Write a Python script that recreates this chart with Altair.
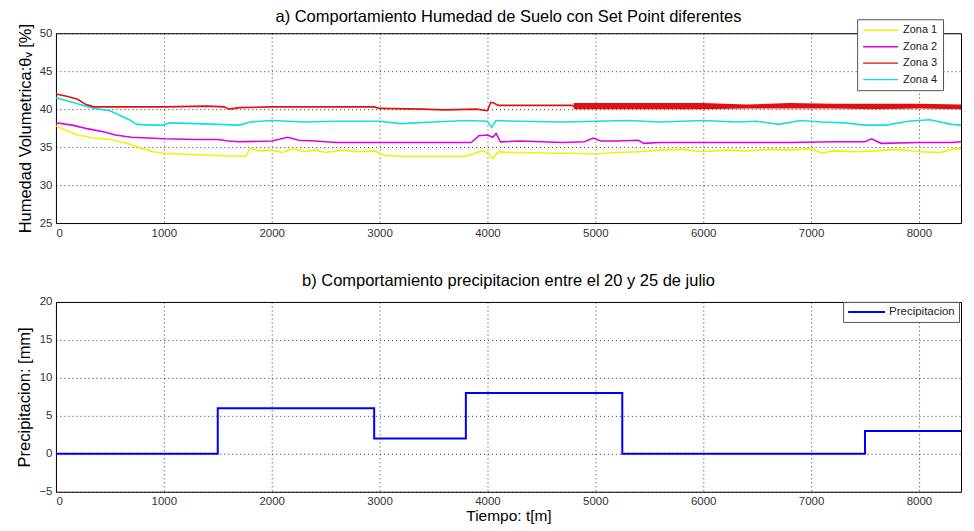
import altair as alt
import pandas as pd

# ---- Panel a) soil moisture (read from picture) ----
z1_t = [0, 100, 200, 350, 500, 600, 700, 800, 900, 1000, 1150, 1300, 1500, 1700, 1760, 1800, 1900, 2000, 2100, 2200, 2300, 2400, 2500, 2650, 2800, 2950, 3050, 3200, 3500, 3800, 3950, 4000, 4050, 4100, 4200, 4400, 4600, 4800, 5000, 5200, 5400, 5600, 5800, 6000, 6200, 6400, 6600, 6800, 7000, 7100, 7200, 7400, 7600, 7800, 8000, 8200, 8300, 8390]
z1_v = [37.8, 37.2, 36.6, 36.2, 36.0, 35.7, 35.3, 34.8, 34.4, 34.2, 34.1, 34.0, 33.9, 33.8, 33.8, 34.8, 34.5, 34.6, 34.3, 34.8, 34.4, 34.6, 34.3, 34.6, 34.4, 34.5, 33.9, 33.8, 33.8, 33.8, 34.5, 34.3, 33.5, 34.4, 34.3, 34.3, 34.2, 34.2, 34.1, 34.3, 34.4, 34.6, 34.7, 34.4, 34.6, 34.5, 34.7, 34.6, 34.8, 34.2, 34.5, 34.4, 34.5, 34.7, 34.4, 34.3, 34.7, 34.8]

z2_t = [0, 150, 300, 450, 550, 700, 850, 1000, 1300, 1500, 1600, 1700, 2000, 2150, 2250, 2400, 2600, 3000, 3400, 3850, 3920, 4000, 4050, 4080, 4120, 4300, 4500, 4700, 4900, 4980, 5050, 5200, 5400, 5450, 5600, 6000, 6400, 6800, 7200, 7500, 7560, 7650, 8000, 8300, 8390]
z2_v = [38.2, 37.9, 37.4, 37.0, 36.6, 36.3, 36.2, 36.1, 36.0, 36.0, 35.8, 35.7, 35.8, 36.3, 35.9, 35.8, 35.6, 35.6, 35.6, 35.6, 36.5, 36.6, 36.3, 36.8, 35.7, 35.8, 35.7, 35.6, 35.7, 36.2, 35.8, 35.8, 35.9, 35.5, 35.6, 35.6, 35.6, 35.6, 35.7, 35.7, 36.1, 35.5, 35.6, 35.6, 35.7]

z3_t = [0, 100, 200, 280, 350, 600, 1000, 1400, 1560, 1600, 1700, 2000, 2500, 2950, 3000, 3400, 3600, 3900, 4000, 4030, 4060, 4100, 4300, 4600, 4780, 4800]
z3_v = [42.0, 41.7, 41.3, 40.6, 40.3, 40.3, 40.3, 40.4, 40.3, 40.0, 40.2, 40.3, 40.3, 40.3, 40.1, 40.0, 39.9, 40.0, 39.8, 40.9, 40.8, 40.5, 40.5, 40.5, 40.5, 40.4]
z3_band_t = [4800, 5200, 5600, 6000, 6400, 6800, 7200, 7600, 8000, 8390]
z3_band_lo = [40.0, 40.0, 40.0, 40.0, 40.1, 40.1, 40.1, 40.0, 40.1, 40.0]
z3_band_hi = [40.8, 40.8, 40.8, 40.8, 40.6, 40.8, 40.7, 40.7, 40.7, 40.6]

z4_t = [0, 100, 200, 300, 400, 500, 560, 620, 680, 750, 900, 1000, 1050, 1300, 1500, 1700, 1800, 2000, 2300, 2600, 3000, 3200, 3500, 3800, 4000, 4040, 4080, 4300, 4700, 5000, 5300, 5600, 6000, 6300, 6500, 6700, 6900, 7100, 7300, 7500, 7700, 7900, 8100, 8300, 8390]
z4_v = [41.5, 41.1, 40.7, 40.3, 40.0, 39.8, 39.4, 39.0, 38.6, 38.0, 37.9, 37.9, 38.2, 38.1, 38.0, 37.9, 38.3, 38.5, 38.3, 38.4, 38.4, 38.1, 38.3, 38.5, 38.4, 37.6, 38.5, 38.4, 38.3, 38.4, 38.5, 38.3, 38.5, 38.3, 38.4, 38.0, 38.5, 38.3, 38.2, 37.9, 37.9, 38.4, 38.6, 38.0, 37.9]

# ---- Panel b) precipitation steps ----
p_t = [0, 1500, 2950, 3800, 5250, 7500, 8390]
p_v = [0, 6, 2, 8, 0, 3, 3]

zones = ["Zona 1", "Zona 2", "Zona 3", "Zona 4"]
zone_colors = ["#f2f200", "#e000e0", "#e01010", "#10e0e0"]

rows = []
for name, ts, vs in [("Zona 1", z1_t, z1_v), ("Zona 2", z2_t, z2_v), ("Zona 4", z4_t, z4_v), ("Zona 3", z3_t, z3_v)]:
    for t, v in zip(ts, vs):
        rows.append({"t": t, "v": v, "zona": name})
for t, lo, hi in zip(z3_band_t, z3_band_lo, z3_band_hi):
    rows.append({"t": t, "v": (lo + hi) / 2, "zona": "Zona 3"})
df_a = pd.DataFrame(rows)
df_band = pd.DataFrame({"t": z3_band_t, "lo": z3_band_lo, "hi": z3_band_hi})
df_b = pd.DataFrame({"t": p_t, "p": p_v, "serie": ["Precipitacion"] * len(p_t)})

FONT = "Liberation Sans"
XMAX = 8390
XTICKS = list(range(0, 8001, 1000))
W = 906

x_top = alt.X("t:Q", scale=alt.Scale(domain=[0, XMAX], nice=False, zero=False),
              axis=alt.Axis(values=XTICKS, format="d", title=None))
x_bot = alt.X("t:Q", scale=alt.Scale(domain=[0, XMAX], nice=False, zero=False),
              axis=alt.Axis(values=XTICKS, format="d", title="Tiempo: t[m]"))
y_top_axis = alt.Axis(values=[25, 30, 35, 40, 45, 50], format="d",
                      title="Humedad Volumetrica:θᵥ [%]")

band = alt.Chart(df_band).mark_area(color="#e01010", opacity=1).encode(
    x=x_top,
    y=alt.Y("lo:Q", scale=alt.Scale(domain=[25, 50], nice=False), axis=y_top_axis),
    y2="hi:Q",
)

lines_a = alt.Chart(df_a).mark_line(strokeWidth=1.6, clip=True).encode(
    x=x_top,
    y=alt.Y("v:Q", scale=alt.Scale(domain=[25, 50], nice=False), axis=y_top_axis),
    color=alt.Color("zona:N", scale=alt.Scale(domain=zones, range=zone_colors),
                    legend=alt.Legend(title=None, orient="none", legendX=W - 104, legendY=-14,
                                      symbolType="M-1,0H6", symbolSize=100, symbolStrokeWidth=1.3,
                                      labelOffset=29,
                                      strokeColor="#555", fillColor="white", padding=5,
                                      labelFontSize=11, labelFont=FONT, rowPadding=5.5,
                                      labelColor="#222")),
    order=alt.Order("t:Q"),
    detail="zona:N",
)

top = alt.layer(band, lines_a).properties(
    width=W, height=190,
    title=alt.TitleParams("a) Comportamiento Humedad de Suelo con Set Point diferentes",
                          fontSize=16.5, font=FONT, fontWeight="normal", offset=-7, anchor="middle"),
)

bottom = alt.Chart(df_b).mark_line(strokeWidth=2, color="#0000ff", interpolate="step-after").encode(
    x=x_bot,
    y=alt.Y("p:Q", scale=alt.Scale(domain=[-5, 20], nice=False),
            axis=alt.Axis(values=[-5, 0, 5, 10, 15, 20], format="d", title="Precipitacion: [mm]")),
    color=alt.Color("serie:N", scale=alt.Scale(domain=["Precipitacion"], range=["#0000ff"]),
                    legend=alt.Legend(title=None, orient="none", legendX=W - 118, legendY=0,
                                      symbolType="M-1,0H6.4", symbolSize=100, symbolStrokeWidth=2,
                                      labelOffset=30,
                                      strokeColor="#555", fillColor="white", padding=4,
                                      labelFontSize=11.5, labelFont=FONT, labelColor="#222")),
).properties(
    width=W, height=190,
    title=alt.TitleParams("b) Comportamiento precipitacion entre el 20 y 25 de julio",
                          fontSize=16.5, font=FONT, fontWeight="normal", offset=6, anchor="middle"),
)

chart = alt.vconcat(top, bottom, spacing=34).resolve_scale(color="independent").resolve_legend(
    color="independent"
).properties(
    padding={"left": 8, "top": 0, "right": 0, "bottom": 0},
    background="white",
).configure_view(
    stroke="#000", strokeWidth=1
).configure_axis(
    domain=False, ticks=False, labelPadding=4, labelOverlap=False,
    labelFont=FONT, labelFontSize=11.5, labelColor="#333",
    grid=True, gridColor="#000", gridDash=[1, 3], gridOpacity=0.8,
    titleFont=FONT, titleFontSize=16.5, titleFontWeight="normal", titleColor="#000",
).configure_axisX(
    titleFontSize=15.5, titlePadding=1,
).configure_axisY(
    titlePadding=6,
)

chart.save("out.html", embed_options={"renderer": "svg", "actions": False})
